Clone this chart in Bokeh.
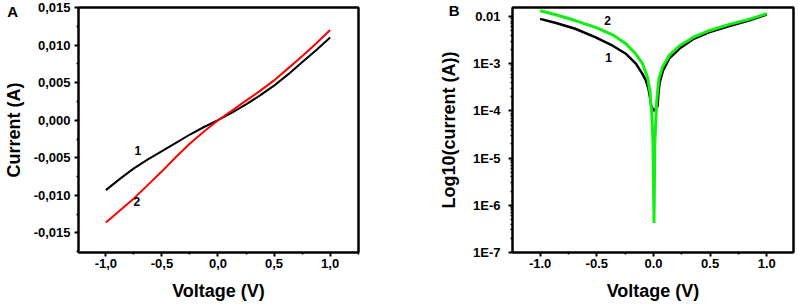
from bokeh.plotting import figure
from bokeh.layouts import row
from bokeh.models import FixedTicker, CustomJSTickFormatter, Range1d, Label, LinearAxis, LogAxis
from bokeh.core.properties import value
from bokeh.embed import file_html
from bokeh.resources import INLINE

# ---------------- data: panel A (I-V) ----------------
voltage_a = [-1.0, -0.875, -0.75, -0.625, -0.5, -0.375, -0.25, -0.125, 0.0,
             0.125, 0.25, 0.375, 0.5, 0.625, 0.75, 0.875, 1.0]
current_a1 = [-0.0093, -0.0078, -0.0064, -0.0052, -0.0041, -0.0030, -0.0019, -0.0009, 0.0,
              0.0010, 0.0021, 0.0033, 0.0046, 0.0061, 0.0077, 0.0093, 0.0110]
current_a2 = [-0.0136, -0.0120, -0.0104, -0.0086, -0.0068, -0.0049, -0.0031, -0.0015, 0.0,
              0.0013, 0.0026, 0.0039, 0.0053, 0.0069, 0.0085, 0.0102, 0.0120]
labels_a_text = ["1", "2"]
labels_a_x = [-0.715, -0.724]
labels_a_y = [-0.0040, -0.0108]

x_ticks_a = [-1.0, -0.5, 0.0, 0.5, 1.0]
x_tick_labels_a = ["-1,0", "-0,5", "0,0", "0,5", "1,0"]
y_ticks_a = [-0.015, -0.010, -0.005, 0.0, 0.005, 0.010, 0.015]
y_tick_labels_a = ["-0,015", "-0,010", "-0,005", "0,000", "0,005", "0,010", "0,015"]

# ---------------- data: panel B (log |I|) ----------------
voltage_b1 = [-1.0, -0.86, -0.69, -0.51, -0.36, -0.24, -0.155, -0.096, -0.067, -0.045, -0.03, -0.02,
              0.008, 0.036, 0.045, 0.055, 0.085, 0.14, 0.23, 0.35, 0.49, 0.67, 0.85, 1.0]
current_b1 = [0.0089, 0.0073, 0.0055, 0.0036, 0.0024, 0.0016, 0.0010, 0.00060, 0.00044, 0.00030, 0.00019, 0.000125,
              0.0001, 0.000125, 0.00025, 0.00040, 0.00072, 0.00130, 0.0021, 0.0033, 0.0046, 0.0063, 0.0083, 0.0110]
voltage_b2 = [-1.0, -0.86, -0.69, -0.51, -0.36, -0.24, -0.155, -0.096, -0.052, -0.03, -0.015, -0.004, 0.005,
              0.012, 0.028, 0.04, 0.05, 0.08, 0.14, 0.23, 0.35, 0.49, 0.67, 0.85, 1.0]
current_b2 = [0.0132, 0.0109, 0.0082, 0.0059, 0.0041, 0.0026, 0.0016, 0.0010, 0.00051, 0.00025, 0.00009, 0.00002,
              0.00000042, 0.00002, 0.00015, 0.00032, 0.00050, 0.00085, 0.0015, 0.0024, 0.0036, 0.0050, 0.0068,
              0.0088, 0.0115]
labels_b_text = ["2", "1"]
labels_b_x = [-0.405, -0.396]
labels_b_y = [0.0082, 0.00136]

x_ticks_b = [-1.0, -0.5, 0.0, 0.5, 1.0]
x_tick_labels_b = ["-1.0", "-0.5", "0.0", "0.5", "1.0"]
y_ticks_b = [1e-7, 1e-6, 1e-5, 1e-4, 1e-3, 1e-2]
y_tick_labels_b = ["1E-7", "1E-6", "1E-5", "1E-4", "1E-3", "0.01"]

FONT = "Liberation Sans"
TICK_FS = "13px"
LABEL_FS = "18px"

fmt_code = """
for (let i = 0; i < vals.length; i++) {
  if (Math.abs(vals[i] - tick) <= 1e-6 * Math.abs(vals[i]) + 1e-12) { return labs[i]; }
}
return "";
"""


def style_axis(ax):
    ax.axis_line_width = 2
    ax.major_tick_line_width = 2
    ax.minor_tick_line_width = 1.5
    ax.major_tick_in = 0
    ax.major_tick_out = 4
    ax.minor_tick_in = 0
    ax.minor_tick_out = 2
    ax.major_label_text_font = FONT
    ax.major_label_text_font_style = "bold"
    ax.major_label_text_font_size = TICK_FS
    ax.major_label_text_color = "black"
    ax.axis_label_text_font = FONT
    ax.axis_label_text_font_style = "bold"
    ax.axis_label_text_font_size = LABEL_FS
    ax.axis_label_text_color = "black"


def style_fig(p):
    p.xgrid.visible = False
    p.ygrid.visible = False
    p.outline_line_color = "black"
    p.outline_line_width = 2
    p.background_fill_color = "white"
    p.border_fill_color = "white"


def frame_axis(cls):
    ax = cls(ticker=FixedTicker(ticks=[], minor_ticks=[]))
    ax.axis_line_width = 2
    ax.axis_line_color = "black"
    ax.major_tick_out = 0
    ax.major_tick_in = 0
    ax.minor_tick_out = 0
    ax.minor_tick_in = 0
    ax.major_label_standoff = 0
    ax.axis_label_standoff = 0
    return ax


# ---------------- panel A ----------------
pa = figure(width=400, height=308, x_range=Range1d(-1.244, 1.253), y_range=Range1d(-0.0176, 0.015),
            output_backend="svg", toolbar_location=None,
            min_border_left=75, min_border_right=42, min_border_top=7, min_border_bottom=56)
style_fig(pa)
xa = pa.below[0]
ya = pa.left[0]
style_axis(xa)
style_axis(ya)
xa.ticker = FixedTicker(ticks=x_ticks_a, minor_ticks=[-1.25, -0.75, -0.25, 0.25, 0.75, 1.25])
ya.ticker = FixedTicker(ticks=y_ticks_a,
                        minor_ticks=[-0.0175, -0.0125, -0.0075, -0.0025, 0.0025, 0.0075, 0.0125])
xa.formatter = CustomJSTickFormatter(args=dict(vals=x_ticks_a, labs=x_tick_labels_a), code=fmt_code)
ya.formatter = CustomJSTickFormatter(args=dict(vals=y_ticks_a, labs=y_tick_labels_a), code=fmt_code)
xa.axis_label = "Voltage (V)"
ya.axis_label = "Current (A)"
xa.major_label_standoff = 2
ya.major_label_standoff = 4
xa.axis_label_standoff = 10
ya.axis_label_standoff = 7
pa.add_layout(frame_axis(LinearAxis), "right")
pa.add_layout(frame_axis(LinearAxis), "above")
pa.line(voltage_a, current_a1, line_color="black", line_width=2)
pa.line(voltage_a, current_a2, line_color="#ff0000", line_width=2)
pa.text(labels_a_x, labels_a_y, text=labels_a_text, text_align="center", text_baseline="middle",
        text_font=value(FONT), text_font_size="12px", text_font_style="bold", text_color="black")
pa.add_layout(Label(x=-1.879, y=0.01447, text="A", text_align="left", text_baseline="middle",
                    text_font=FONT, text_font_size="15px", text_font_style="bold", text_color="black"),
              "right")

# ---------------- panel B ----------------
minor_b = []
for d in y_ticks_b:
    for m in range(2, 10):
        minor_b.append(d * m)

pb = figure(width=398, height=308, x_range=Range1d(-1.244, 1.236), y_range=Range1d(1e-7, 0.0155),
            y_axis_type="log", output_backend="svg", toolbar_location=None,
            min_border_left=112, min_border_right=5, min_border_top=7, min_border_bottom=56)
style_fig(pb)
xb = pb.below[0]
yb = pb.left[0]
style_axis(xb)
style_axis(yb)
xb.ticker = FixedTicker(ticks=x_ticks_b, minor_ticks=[-1.25, -0.75, -0.25, 0.25, 0.75, 1.25])
yb.ticker = FixedTicker(ticks=y_ticks_b, minor_ticks=minor_b)
xb.formatter = CustomJSTickFormatter(args=dict(vals=x_ticks_b, labs=x_tick_labels_b), code=fmt_code)
yb.formatter = CustomJSTickFormatter(args=dict(vals=y_ticks_b, labs=y_tick_labels_b), code=fmt_code)
xb.axis_label = "Voltage (V)"
yb.axis_label = "Log10(current (A))"
xb.major_label_standoff = 2
yb.major_label_standoff = 8
xb.axis_label_standoff = 10
yb.axis_label_standoff = 11
pb.add_layout(frame_axis(LogAxis), "right")
pb.add_layout(frame_axis(LinearAxis), "above")
pb.line(voltage_b1, current_b1, line_color="black", line_width=2.5)
pb.line(voltage_b2, current_b2, line_color="#11ee11", line_width=3)
pb.text(labels_b_x, labels_b_y, text=labels_b_text, text_align="center", text_baseline="middle",
        text_font=value(FONT), text_font_size="12px", text_font_style="bold", text_color="black")
pb.add_layout(Label(x=-1.806, y=0.01337, text="B", text_align="left", text_baseline="middle",
                    text_font=FONT, text_font_size="15px", text_font_style="bold", text_color="black"),
              "left")

layout = row(pa, pb)
open("out.html", "w").write(file_html(layout, INLINE))
